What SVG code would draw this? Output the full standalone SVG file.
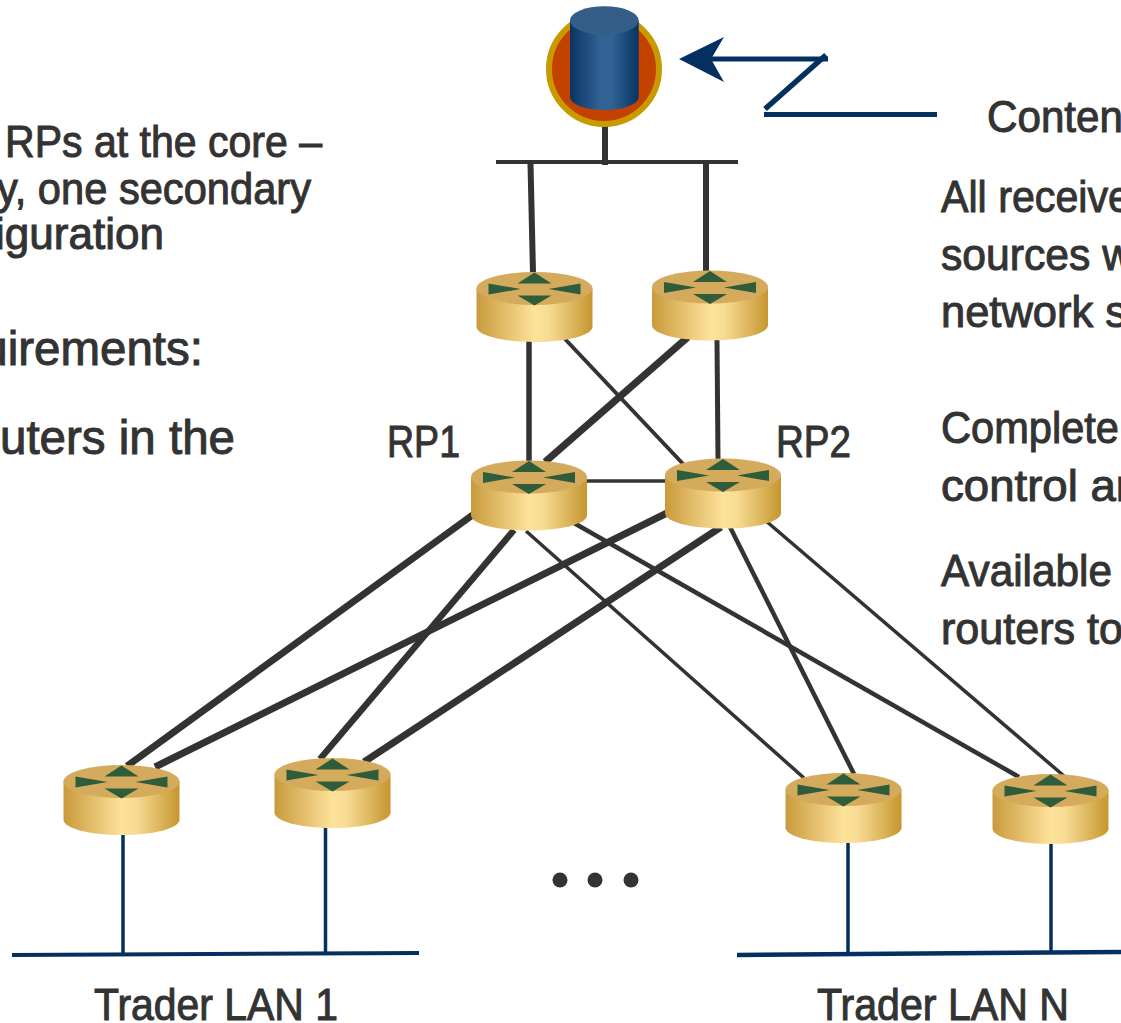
<svg xmlns="http://www.w3.org/2000/svg" width="1121" height="1023" viewBox="0 0 1121 1023">
<defs>
<linearGradient id="rb" x1="0" x2="1" y1="0" y2="0"><stop offset="0" stop-color="#c99a3c"/><stop offset=".5" stop-color="#fde29a"/><stop offset=".62" stop-color="#f8dc94"/><stop offset="1" stop-color="#c6962f"/></linearGradient>
<linearGradient id="cy" x1="0" x2="1" y1="0" y2="0"><stop offset="0" stop-color="#0a3365"/><stop offset=".45" stop-color="#326395"/><stop offset=".6" stop-color="#326395"/><stop offset="1" stop-color="#0a3365"/></linearGradient>
<g id="router">
<path d="M-58 0V38C-58 47 -32 53.5 0 53.5S58 47 58 38V0Z" fill="url(#rb)"/>
<ellipse rx="58" ry="16.5" fill="#d4ab5c"/>
<path d="M0-16L17-5H-17ZM0 17L17 7H-17ZM-46-5L-14 .5L-46 6ZM46-5L14 .5L46 6Z" fill="#2f5c3a"/>
</g>
</defs>
<style>
text{font-family:"Liberation Sans",Arial,sans-serif;font-size:44px;fill:#333;stroke:#333;stroke-width:1px}
.e{text-anchor:end}
.l{font-size:47.5px}
#connectors line{stroke:#333;stroke-linecap:butt}
#connectors line.n{stroke:#03305f}
</style>
<g id="connectors">
<line x1="605" y1="124" x2="605" y2="165" stroke-width="6"/>
<line x1="496" y1="162" x2="738" y2="162" stroke-width="4"/>
<line x1="530.5" y1="164" x2="533" y2="273" stroke-width="6"/>
<line x1="706" y1="164" x2="706" y2="271" stroke-width="6"/>
<line x1="529" y1="340" x2="529" y2="462" stroke-width="5.5"/>
<line x1="565" y1="339" x2="685" y2="466" stroke-width="4"/>
<line x1="688" y1="337" x2="545" y2="462" stroke-width="7"/>
<line x1="717" y1="340" x2="718" y2="459" stroke-width="5"/>
<line x1="586" y1="481" x2="666" y2="481" stroke-width="3.5"/>
<line x1="474" y1="514" x2="127" y2="766" stroke-width="7"/>
<line x1="514" y1="530" x2="320" y2="759" stroke-width="6.5"/>
<line x1="667" y1="513" x2="155" y2="767" stroke-width="7"/>
<line x1="721" y1="527" x2="364" y2="762" stroke-width="7"/>
<line x1="526" y1="531" x2="804" y2="778" stroke-width="3.5"/>
<line x1="574" y1="523" x2="1019" y2="777" stroke-width="4.5"/>
<line x1="730" y1="527" x2="854" y2="774" stroke-width="4.5"/>
<line x1="766" y1="521" x2="1064" y2="776" stroke-width="3.5"/>
<line class="n" x1="123" y1="833" x2="123" y2="955" stroke-width="3.5"/>
<line class="n" x1="325.5" y1="826" x2="325.5" y2="954" stroke-width="3.5"/>
<line class="n" x1="848" y1="841" x2="848" y2="955" stroke-width="3.5"/>
<line class="n" x1="1051" y1="843" x2="1051" y2="954" stroke-width="3.5"/>
<line class="n" x1="12" y1="955" x2="419" y2="953" stroke-width="4"/>
<line class="n" x1="737" y1="955" x2="1121" y2="952" stroke-width="4.5"/>
<g id="arrow">
<line class="n" x1="705" y1="59" x2="828" y2="59" stroke-width="5"/>
<line class="n" x1="826" y1="55" x2="765" y2="109" stroke-width="5.5"/>
<line class="n" x1="764" y1="114.5" x2="937" y2="114.5" stroke-width="5"/>
<path d="M679 59L724 37L711 59L724 82Z" fill="#03305f"/>
</g>
</g>
<g id="server">
<circle cx="604" cy="69" r="55" fill="#c44200" stroke="#c99a00" stroke-width="6"/>
<path d="M570 20.5V97C570 104 585 110 604.3 110S638.7 104 638.7 97V20.5Z" fill="url(#cy)"/>
<ellipse cx="604.3" cy="20.5" rx="34.3" ry="14.3" fill="#345e88"/>
</g>
<use id="router-1" href="#router" x="534.5" y="288.5"/>
<use id="router-2" href="#router" x="710" y="287"/>
<use id="rp1" href="#router" x="529" y="477"/>
<use id="rp2" href="#router" x="723" y="475"/>
<use id="router-3" href="#router" x="121.5" y="781.5"/>
<use id="router-4" href="#router" x="332.5" y="774.5"/>
<use id="router-5" href="#router" x="843.5" y="789.5"/>
<use id="router-6" href="#router" x="1050.5" y="790.5"/>
<g id="dots" fill="#333"><circle cx="560" cy="880" r="7.5"/><circle cx="595" cy="880" r="7.5"/><circle cx="631" cy="880" r="7.5"/></g>
<g id="labels">
<text x="387" y="457" textLength="73" lengthAdjust="spacingAndGlyphs">RP1</text>
<text x="776" y="457" textLength="75" lengthAdjust="spacingAndGlyphs">RP2</text>
<text x="94" y="1020" textLength="244" lengthAdjust="spacingAndGlyphs">Trader LAN 1</text>
<text x="817" y="1020" textLength="252" lengthAdjust="spacingAndGlyphs">Trader LAN N</text>
<text x="987" y="132" textLength="136" lengthAdjust="spacingAndGlyphs">Conten</text>
<text x="5" y="157" textLength="317" lengthAdjust="spacingAndGlyphs">RPs at the core –</text>
<text x="-3" y="204" textLength="314" lengthAdjust="spacingAndGlyphs">y, one secondary</text>
<text x="-5" y="249" textLength="169" lengthAdjust="spacingAndGlyphs">iguration</text>
<text class="e l" x="203" y="365">uirements:</text>
<text class="e l" x="235" y="454">uters in the</text>
<text x="941" y="212" textLength="190" lengthAdjust="spacingAndGlyphs">All receive</text>
<text x="941" y="270" textLength="192" lengthAdjust="spacingAndGlyphs">sources w</text>
<text x="941" y="327" textLength="186" lengthAdjust="spacingAndGlyphs">network s</text>
<text x="941" y="443" textLength="178" lengthAdjust="spacingAndGlyphs">Complete</text>
<text x="941" y="501" textLength="190" lengthAdjust="spacingAndGlyphs">control ar</text>
<text x="941" y="586" textLength="171" lengthAdjust="spacingAndGlyphs">Available</text>
<text x="941" y="644" textLength="182" lengthAdjust="spacingAndGlyphs">routers to</text>
</g>
</svg>
